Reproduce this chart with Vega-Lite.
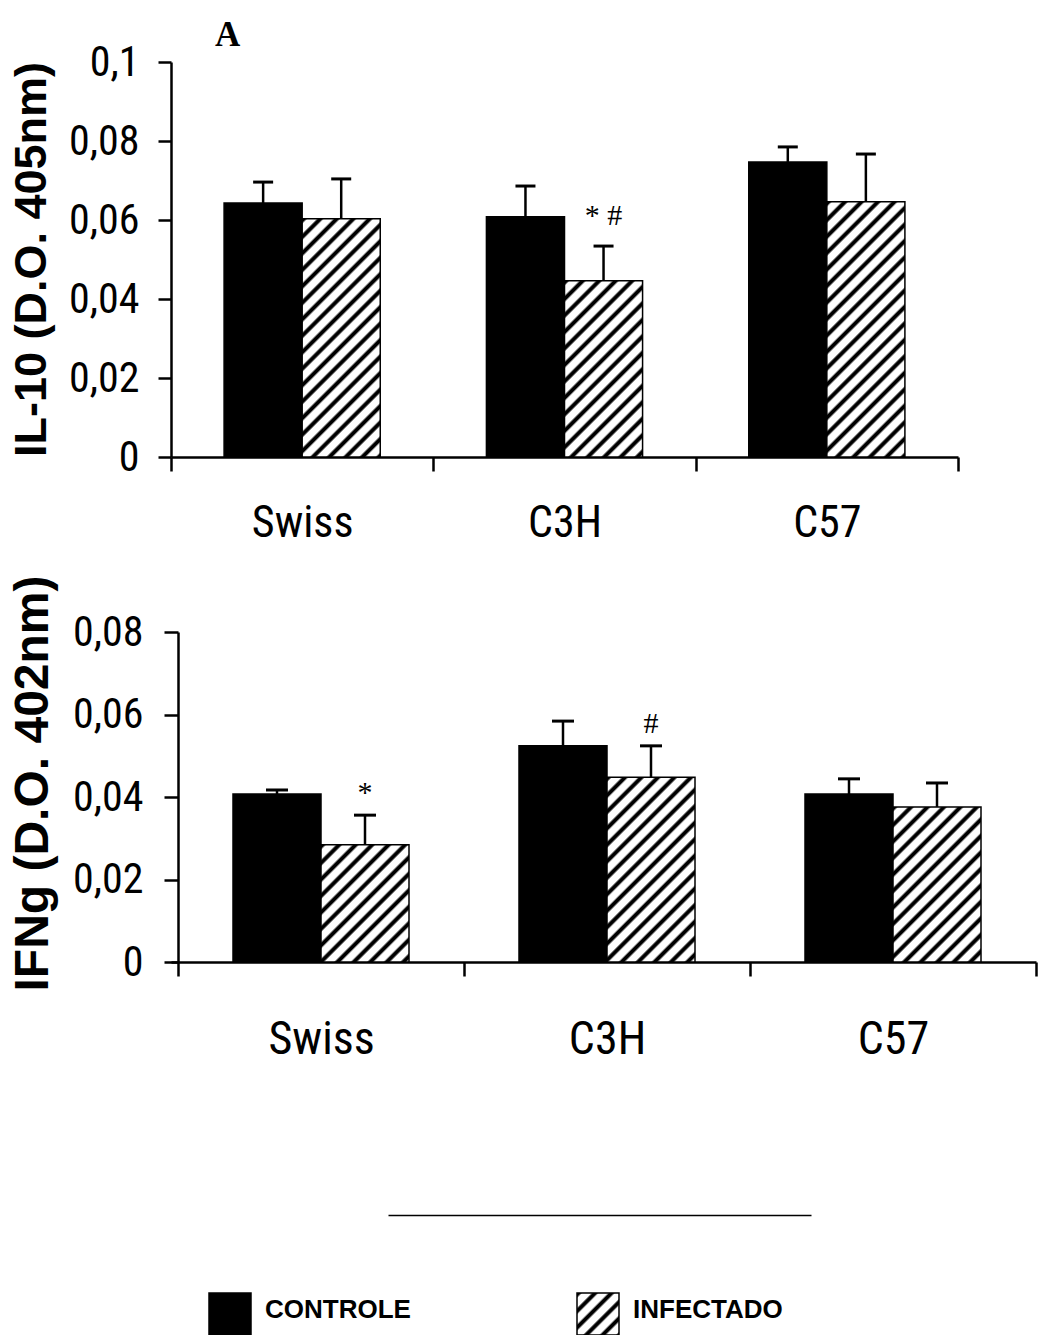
{
  "$schema": "https://vega.github.io/schema/vega-lite/v6.json",
  "background": "white",
  "padding": {"left": 8, "top": 18, "right": 0, "bottom": 0},
  "params": [
    {"name": "hatch", "value": [
      {"offset": 0, "color": "#000"}, {"offset": 0.008, "color": "#000"}, {"offset": 0.014, "color": "#fff"}, {"offset": 0.034, "color": "#fff"},
      {"offset": 0.04, "color": "#000"}, {"offset": 0.048, "color": "#000"}, {"offset": 0.054, "color": "#fff"}, {"offset": 0.074, "color": "#fff"},
      {"offset": 0.08, "color": "#000"}, {"offset": 0.088, "color": "#000"}, {"offset": 0.094, "color": "#fff"}, {"offset": 0.114, "color": "#fff"},
      {"offset": 0.12, "color": "#000"}, {"offset": 0.128, "color": "#000"}, {"offset": 0.134, "color": "#fff"}, {"offset": 0.154, "color": "#fff"},
      {"offset": 0.16, "color": "#000"}, {"offset": 0.168, "color": "#000"}, {"offset": 0.174, "color": "#fff"}, {"offset": 0.194, "color": "#fff"},
      {"offset": 0.2, "color": "#000"}, {"offset": 0.208, "color": "#000"}, {"offset": 0.214, "color": "#fff"}, {"offset": 0.234, "color": "#fff"},
      {"offset": 0.24, "color": "#000"}, {"offset": 0.248, "color": "#000"}, {"offset": 0.254, "color": "#fff"}, {"offset": 0.274, "color": "#fff"},
      {"offset": 0.28, "color": "#000"}, {"offset": 0.288, "color": "#000"}, {"offset": 0.294, "color": "#fff"}, {"offset": 0.314, "color": "#fff"},
      {"offset": 0.32, "color": "#000"}, {"offset": 0.328, "color": "#000"}, {"offset": 0.334, "color": "#fff"}, {"offset": 0.354, "color": "#fff"},
      {"offset": 0.36, "color": "#000"}, {"offset": 0.368, "color": "#000"}, {"offset": 0.374, "color": "#fff"}, {"offset": 0.394, "color": "#fff"},
      {"offset": 0.4, "color": "#000"}, {"offset": 0.408, "color": "#000"}, {"offset": 0.414, "color": "#fff"}, {"offset": 0.434, "color": "#fff"},
      {"offset": 0.44, "color": "#000"}, {"offset": 0.448, "color": "#000"}, {"offset": 0.454, "color": "#fff"}, {"offset": 0.474, "color": "#fff"},
      {"offset": 0.48, "color": "#000"}, {"offset": 0.488, "color": "#000"}, {"offset": 0.494, "color": "#fff"}, {"offset": 0.514, "color": "#fff"},
      {"offset": 0.52, "color": "#000"}, {"offset": 0.528, "color": "#000"}, {"offset": 0.534, "color": "#fff"}, {"offset": 0.554, "color": "#fff"},
      {"offset": 0.56, "color": "#000"}, {"offset": 0.568, "color": "#000"}, {"offset": 0.574, "color": "#fff"}, {"offset": 0.594, "color": "#fff"},
      {"offset": 0.6, "color": "#000"}, {"offset": 0.608, "color": "#000"}, {"offset": 0.614, "color": "#fff"}, {"offset": 0.634, "color": "#fff"},
      {"offset": 0.64, "color": "#000"}, {"offset": 0.648, "color": "#000"}, {"offset": 0.654, "color": "#fff"}, {"offset": 0.674, "color": "#fff"},
      {"offset": 0.68, "color": "#000"}, {"offset": 0.688, "color": "#000"}, {"offset": 0.694, "color": "#fff"}, {"offset": 0.714, "color": "#fff"},
      {"offset": 0.72, "color": "#000"}, {"offset": 0.728, "color": "#000"}, {"offset": 0.734, "color": "#fff"}, {"offset": 0.754, "color": "#fff"},
      {"offset": 0.76, "color": "#000"}, {"offset": 0.768, "color": "#000"}, {"offset": 0.774, "color": "#fff"}, {"offset": 0.794, "color": "#fff"},
      {"offset": 0.8, "color": "#000"}, {"offset": 0.808, "color": "#000"}, {"offset": 0.814, "color": "#fff"}, {"offset": 0.834, "color": "#fff"},
      {"offset": 0.84, "color": "#000"}, {"offset": 0.848, "color": "#000"}, {"offset": 0.854, "color": "#fff"}, {"offset": 0.874, "color": "#fff"},
      {"offset": 0.88, "color": "#000"}, {"offset": 0.888, "color": "#000"}, {"offset": 0.894, "color": "#fff"}, {"offset": 0.914, "color": "#fff"},
      {"offset": 0.92, "color": "#000"}, {"offset": 0.928, "color": "#000"}, {"offset": 0.934, "color": "#fff"}, {"offset": 0.954, "color": "#fff"},
      {"offset": 0.96, "color": "#000"}, {"offset": 0.968, "color": "#000"}, {"offset": 0.974, "color": "#fff"}, {"offset": 0.994, "color": "#fff"},
      {"offset": 1, "color": "#000"}
    ]}
  ],
  "datasets": {
    "il10": [
      {"strain": "Swiss", "group": "CONTROLE", "value": 0.0643, "upper": 0.0696, "note": ""},
      {"strain": "Swiss", "group": "INFECTADO", "value": 0.0603, "upper": 0.0704, "note": ""},
      {"strain": "C3H", "group": "CONTROLE", "value": 0.0608, "upper": 0.0686, "note": ""},
      {"strain": "C3H", "group": "INFECTADO", "value": 0.0446, "upper": 0.0534, "note": "* #"},
      {"strain": "C57", "group": "CONTROLE", "value": 0.0747, "upper": 0.0785, "note": ""},
      {"strain": "C57", "group": "INFECTADO", "value": 0.0646, "upper": 0.0767, "note": ""}
    ],
    "ifng": [
      {"strain": "Swiss", "group": "CONTROLE", "value": 0.0407, "upper": 0.0417, "note": ""},
      {"strain": "Swiss", "group": "INFECTADO", "value": 0.0284, "upper": 0.0356, "note": "*"},
      {"strain": "C3H", "group": "CONTROLE", "value": 0.0524, "upper": 0.0584, "note": ""},
      {"strain": "C3H", "group": "INFECTADO", "value": 0.0448, "upper": 0.0524, "note": "#"},
      {"strain": "C57", "group": "CONTROLE", "value": 0.0407, "upper": 0.0444, "note": ""},
      {"strain": "C57", "group": "INFECTADO", "value": 0.0376, "upper": 0.0434, "note": ""}
    ],
    "legend": [
      {"group": "CONTROLE"},
      {"group": "INFECTADO"}
    ]
  },
  "config": {
    "view": {"stroke": null},
    "font": "Liberation Sans",
    "axis": {
      "domainColor": "black", "domainWidth": 2.5,
      "tickColor": "black", "tickWidth": 2.5,
      "labelColor": "black", "titleColor": "black",
      "labelFont": "Roboto Condensed, Liberation Sans",
      "labelFontWeight": 400,
      "grid": false
    }
  },
  "vconcat": [
    {
      "spacing": 29,
      "resolve": {"scale": {"xOffset": "independent", "x": "independent", "y": "independent"}},
      "vconcat": [
        {
          "width": 787,
          "height": 395,
          "title": {"text": "A", "anchor": "start", "frame": "group", "font": "Liberation Serif", "fontSize": 35, "fontWeight": "bold", "color": "black", "dx": 44, "offset": -12},
          "data": {"name": "il10"},
          "encoding": {
            "x": {
              "field": "strain", "type": "nominal", "sort": ["Swiss", "C3H", "C57"],
              "scale": {"paddingInner": 0, "paddingOuter": 0},
              "axis": {"title": null, "tickBand": "extent", "tickSize": 14, "labelPadding": 30, "labelAngle": 0, "labelFontSize": 44}
            },
            "xOffset": {"field": "group", "type": "nominal", "sort": ["CONTROLE", "INFECTADO"], "scale": {"paddingInner": 0, "paddingOuter": 0.68}}
          },
          "layer": [
            {
              "mark": {"type": "bar", "stroke": "black", "strokeWidth": 1.5},
              "encoding": {
                "y": {
                  "field": "value", "type": "quantitative",
                  "scale": {"domain": [0, 0.1], "nice": false},
                  "axis": {
                    "title": "IL-10 (D.O. 405nm)",
                    "values": [0, 0.02, 0.04, 0.06, 0.08, 0.1],
                    "labelExpr": "replace(format(datum.value, '~g'), '.', ',')",
                    "tickSize": 13, "labelPadding": 19, "labelFontSize": 42,
                    "titleFont": "Liberation Sans", "titleFontWeight": "bold", "titleFontSize": 45,
                    "titleX": -117, "titleY": 197, "titleBaseline": "bottom", "titleAngle": -90
                  }
                },
                "fill": {"value": {"expr": "datum.group === 'CONTROLE' ? 'black' : {gradient: 'linear', x1: 0, y1: 0, x2: 412 * 78 / (6084 + pow(datum.value * 3950, 2)), y2: 412 * datum.value * 3950 / (6084 + pow(datum.value * 3950, 2)), stops: hatch}"}}
              }
            },
            {
              "mark": {"type": "rule", "strokeWidth": 2.5, "color": "black"},
              "encoding": {
                "y": {"field": "value", "type": "quantitative"},
                "y2": {"field": "upper"}
              }
            },
            {
              "mark": {"type": "tick", "orient": "horizontal", "size": 20, "thickness": 3, "color": "black", "opacity": 1},
              "encoding": {"y": {"field": "upper", "type": "quantitative"}}
            },
            {
              "mark": {"type": "text", "font": "Liberation Serif", "fontSize": 30, "baseline": "alphabetic", "dy": -21, "color": "black"},
              "encoding": {
                "y": {"field": "upper", "type": "quantitative"},
                "text": {"field": "note"}
              }
            }
          ]
        },
        {
          "width": 865,
          "height": 330,
          "data": {"name": "ifng"},
          "encoding": {
            "x": {
              "field": "strain", "type": "nominal", "sort": ["Swiss", "C3H", "C57"],
              "scale": {"paddingInner": 0, "paddingOuter": 0.01224, "align": 1},
              "axis": {"title": null, "tickBand": "extent", "tickSize": 14, "labelPadding": 41, "labelAngle": 0, "labelFontSize": 46}
            },
            "xOffset": {"field": "group", "type": "nominal", "sort": ["CONTROLE", "INFECTADO"], "scale": {"paddingInner": 0, "paddingOuter": 0.625}}
          },
          "layer": [
            {
              "mark": {"type": "bar", "stroke": "black", "strokeWidth": 1.5},
              "encoding": {
                "y": {
                  "field": "value", "type": "quantitative",
                  "scale": {"domain": [0, 0.08], "nice": false},
                  "axis": {
                    "title": "IFNg (D.O. 402nm)",
                    "offset": -7,
                    "values": [0, 0.02, 0.04, 0.06, 0.08],
                    "labelExpr": "replace(format(datum.value, '~g'), '.', ',')",
                    "tickSize": 14, "labelPadding": 21, "labelFontSize": 42,
                    "titleFont": "Liberation Sans", "titleFontWeight": "bold", "titleFontSize": 48,
                    "titleX": -121, "titleY": 151, "titleBaseline": "bottom", "titleAngle": -90
                  }
                },
                "fill": {"value": {"expr": "datum.group === 'CONTROLE' ? 'black' : {gradient: 'linear', x1: 0, y1: 0, x2: 412 * 88 / (7744 + pow(datum.value * 4125, 2)), y2: 412 * datum.value * 4125 / (7744 + pow(datum.value * 4125, 2)), stops: hatch}"}}
              }
            },
            {
              "mark": {"type": "rule", "strokeWidth": 2.5, "color": "black"},
              "encoding": {
                "y": {"field": "value", "type": "quantitative"},
                "y2": {"field": "upper"}
              }
            },
            {
              "mark": {"type": "tick", "orient": "horizontal", "size": 22, "thickness": 3, "color": "black", "opacity": 1},
              "encoding": {"y": {"field": "upper", "type": "quantitative"}}
            },
            {
              "mark": {"type": "text", "font": "Liberation Serif", "fontSize": 30, "baseline": "alphabetic", "dy": -13, "color": "black"},
              "encoding": {
                "y": {"field": "upper", "type": "quantitative"},
                "text": {"field": "note"}
              }
            }
          ]
        }
      ]
    },
    {
      "width": 865,
      "height": 42,
      "data": {"name": "legend"},
      "layer": [
        {
          "mark": {"type": "point", "opacity": 0},
          "encoding": {
            "x": {
              "field": "group", "type": "nominal",
              "scale": {"type": "point", "range": [217, 640], "padding": 0},
              "axis": {"orient": "top", "offset": 78, "domain": true, "domainWidth": 1.5, "ticks": false, "labels": false, "title": null}
            }
          }
        },
        {
          "mark": {"type": "point", "shape": "square", "size": 1764, "filled": true, "stroke": "black", "strokeWidth": 1.5, "opacity": 1},
          "encoding": {
            "x": {"field": "group", "type": "nominal", "scale": {"type": "point", "range": [59, 427], "padding": 0}, "axis": null},
            "fill": {"value": {"expr": "datum.group === 'CONTROLE' ? 'black' : {gradient: 'linear', x1: 0, y1: 0, x2: 4.905, y2: 4.905, stops: hatch}"}}
          }
        },
        {
          "mark": {"type": "text", "align": "left", "dx": 35, "dy": -4, "font": "Liberation Sans", "fontWeight": "bold", "fontSize": 26, "color": "black"},
          "encoding": {
            "x": {"field": "group", "type": "nominal", "scale": {"type": "point", "range": [59, 427], "padding": 0}, "axis": null},
            "text": {"field": "group"}
          }
        }
      ],
      "resolve": {"scale": {"x": "independent"}, "axis": {"x": "independent"}}
    }
  ],
  "spacing": 153
}
